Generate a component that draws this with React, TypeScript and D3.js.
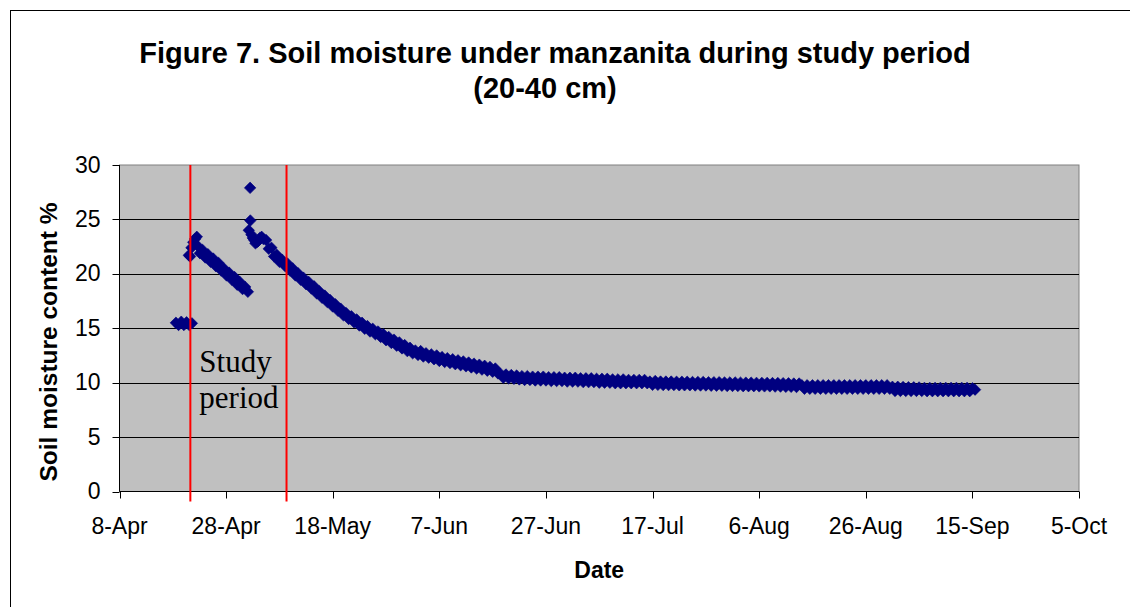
import React from "react";
import * as d3 from "d3";

const W = 1130;
const H = 607;

// axis
const xTickDates = ["2005-04-08", "2005-04-28", "2005-05-18", "2005-06-07", "2005-06-27", "2005-07-17", "2005-08-06", "2005-08-26", "2005-09-15", "2005-10-05"];
const yTicks = [0, 5, 10, 15, 20, 25, 30];
const titleLines = ["Figure 7. Soil moisture under manzanita during study period", "(20-40 cm)"];
const xTitle = "Date";
const yTitle = "Soil moisture content %";
const studyPeriod = ["2005-04-21 07:00", "2005-05-09 08:00"];
const studyLabel = ["Study", "period"];

// readings logged every 12 hours, each run starting at the given time
const preRainStart = "2005-04-18 14:00";
const preRain = [15.5, 15.3, 15.6, 15.3, 15.55, 15.3, 15.45];

// irregular readings around the first wetting
const wet1Times = ["2005-04-21 00:00", "2005-04-21 06:00", "2005-04-21 12:00", "2005-04-21 20:00", "2005-04-22 04:00", "2005-04-22 12:00"];
const wet1Values = [21.7, 21.6, 22.4, 22.9, 23.2, 23.4];

const dry1Start = "2005-04-22 14:00";
const dry1 = [22.6, 21.9, 22.2, 21.5, 21.8, 21.1, 21.4, 20.7, 21.0, 20.3, 20.5, 19.85, 20.1, 19.45, 19.7, 19.0, 19.25, 18.6, 18.8, 18.35];

// irregular readings around the second wetting
const wet2Times = ["2005-05-02 06:00", "2005-05-02 12:00", "2005-05-02 13:00", "2005-05-02 18:00", "2005-05-03 00:00", "2005-05-03 06:00", "2005-05-03 12:00", "2005-05-03 18:00", "2005-05-04 00:00", "2005-05-04 08:00", "2005-05-04 16:00", "2005-05-05 00:00"];
const wet2Values = [24.0, 27.9, 24.9, 23.6, 23.3, 23.1, 22.8, 22.9, 23.0, 23.3, 23.4, 23.2];

const dryMayStart = "2005-05-05 12:00";
const dryMay = [
  23.1, 22.3, 22.4, 21.6, 21.75, 21.1, 21.3, 20.75, 20.95, 20.3,
  20.5, 19.85, 20.05, 19.45, 19.65, 19.05, 19.25, 18.65, 18.85, 18.2,
  18.4, 17.8, 18.0, 17.4, 17.6, 17.0, 17.2, 16.6, 16.8, 16.2,
  16.4, 15.85, 16.1, 15.55, 15.8, 15.25, 15.5, 14.95, 15.2, 14.7,
  14.95, 14.45, 14.7, 14.2, 14.45, 13.9, 14.2, 13.65, 13.95, 13.4,
  13.7, 13.15, 13.45,
];

const dryJunStart = "2005-06-01 00:00";
const dryJun = [
  12.9, 13.2, 12.7, 12.95, 12.55, 12.9, 12.4, 12.7, 12.3, 12.6,
  12.15, 12.5, 12.0, 12.35, 11.9, 12.25, 11.8, 12.15, 11.7, 12.05,
  11.6, 11.95, 11.5, 11.85, 11.4, 11.75, 11.3, 11.65, 11.2, 11.55,
  11.1, 11.45, 11.0, 11.3, 10.85,
];

const flatJulStart = "2005-06-18 12:00";
const flatJul = [
  10.8, 10.45, 10.75, 10.4, 10.7, 10.35, 10.65, 10.3, 10.6, 10.25,
  10.6, 10.25, 10.55, 10.2, 10.55, 10.2, 10.55, 10.2, 10.5, 10.15,
  10.5, 10.15, 10.5, 10.15, 10.45, 10.1, 10.45, 10.1, 10.45, 10.1,
  10.4, 10.05, 10.4, 10.05, 10.4, 10.05, 10.35, 10.0, 10.35, 10.0,
  10.35, 10.0, 10.3, 9.95, 10.3, 9.95, 10.3, 9.95, 10.25, 9.95,
  10.25, 9.95, 10.25, 9.95, 10.25, 9.95,
];

const flatAugStart = "2005-07-16 12:00";
const flatAug = [
  10.1, 9.8, 10.15, 9.8, 10.1, 9.78, 10.1, 9.78, 10.1, 9.78,
  10.08, 9.76, 10.08, 9.76, 10.08, 9.76, 10.06, 9.74, 10.06, 9.74,
  10.06, 9.74, 10.04, 9.72, 10.04, 9.72, 10.04, 9.72, 10.02, 9.7,
  10.02, 9.7, 10.02, 9.7, 10.0, 9.68, 10.0, 9.68, 10.0, 9.68,
  9.98, 9.66, 9.98, 9.66, 9.98, 9.66, 9.96, 9.64, 9.96, 9.64,
  9.95, 9.62, 9.94, 9.62, 9.92, 9.6, 9.92,
];

const flatLateAugStart = "2005-08-14 00:00";
const flatLateAug = [
  9.76, 9.44, 9.76, 9.44, 9.76, 9.44, 9.76, 9.44, 9.76, 9.44,
  9.76, 9.44, 9.76, 9.44, 9.76, 9.44, 9.76, 9.44, 9.76, 9.44,
  9.76, 9.44, 9.76, 9.44, 9.76, 9.44, 9.76, 9.44, 9.76, 9.44,
  9.76, 9.44, 9.76, 9.44,
];

const flatSepStart = "2005-08-31 00:00";
const flatSep = [
  9.62, 9.24, 9.62, 9.24, 9.6, 9.24, 9.58, 9.24, 9.57, 9.24,
  9.56, 9.24, 9.52, 9.22, 9.52, 9.22, 9.52, 9.22, 9.52, 9.22,
  9.52, 9.22, 9.52, 9.22, 9.52, 9.22, 9.52, 9.22, 9.52, 9.22,
  9.48, 9.36,
];

const parseDay = d3.timeParse("%Y-%m-%d");
const parseTime = d3.timeParse("%Y-%m-%d %H:%M");
const fmt = d3.timeFormat("%-d-%b");

type Pt = { t: Date; v: number };

function run(start: string, values: number[]): Pt[] {
  const s = parseTime(start) as Date;
  return values.map((v, i) => ({ t: d3.timeHour.offset(s, 12 * i), v }));
}
function irregular(times: string[], values: number[]): Pt[] {
  return times.map((t, i) => ({ t: parseTime(t) as Date, v: values[i] }));
}

const points: Pt[] = [
  ...run(preRainStart, preRain),
  ...irregular(wet1Times, wet1Values),
  ...run(dry1Start, dry1),
  ...irregular(wet2Times, wet2Values),
  ...run(dryMayStart, dryMay),
  ...run(dryJunStart, dryJun),
  ...run(flatJulStart, flatJul),
  ...run(flatAugStart, flatAug),
  ...run(flatLateAugStart, flatLateAug),
  ...run(flatSepStart, flatSep),
];

const SANS = "'Liberation Sans', Arial, sans-serif";
const SERIF = "'Liberation Serif', 'Times New Roman', serif";

export default function App() {
  const left = 119.5;
  const right = 1079;
  const top = 165;
  const bottom = 491.5;
  const tickDates = xTickDates.map((d) => parseDay(d) as Date);
  const x = d3.scaleTime().domain([tickDates[0], tickDates[tickDates.length - 1]]).range([left, right]);
  const y = d3.scaleLinear().domain([0, 30]).range([bottom, top]);
  const crisp = (v: number) => Math.round(v) + 0.5;
  const diamond = d3.symbol(d3.symbolSquare, 66)() as string;
  const sp = studyPeriod.map((s) => parseTime(s) as Date);
  const titleX = [555, 545];

  return (
    <svg width={W} height={H} style={{ position: "absolute", left: 0, top: 0, background: "#fff" }}>
      <rect x={10.5} y={10.5} width={W + 20} height={H + 20} fill="#fff" stroke="#000" strokeWidth={1} />
      {titleLines.map((t, i) => (
        <text key={t} x={titleX[i]} y={63 + i * 35} textAnchor="middle" fontFamily={SANS} fontWeight="bold" fontSize={29} fill="#000">
          {t}
        </text>
      ))}
      <rect x={left} y={top} width={right - left} height={bottom - top} fill="#C0C0C0" stroke="#808080" strokeWidth={1} />
      {yTicks.filter((v) => v > 0 && v < 30).map((v) => (
        <line key={v} x1={left} x2={right} y1={crisp(y(v))} y2={crisp(y(v))} stroke="#000" strokeWidth={1} />
      ))}
      {/* axes */}
      <line x1={left} x2={left} y1={top} y2={bottom} stroke="#000" />
      <line x1={left} x2={right} y1={bottom} y2={bottom} stroke="#000" />
      {yTicks.map((v) => (
        <g key={v}>
          <line x1={left - 7} x2={left} y1={crisp(y(v))} y2={crisp(y(v))} stroke="#000" />
          <text x={left - 19} y={y(v) + 7.5} textAnchor="end" fontFamily={SANS} fontSize={23} fill="#000">
            {v}
          </text>
        </g>
      ))}
      {tickDates.map((d) => (
        <g key={+d}>
          <line x1={crisp(x(d))} x2={crisp(x(d))} y1={bottom} y2={bottom + 7} stroke="#000" />
          <text x={x(d)} y={533.5} textAnchor="middle" fontFamily={SANS} fontSize={23} fill="#000">
            {fmt(d)}
          </text>
        </g>
      ))}
      <text x={(left + right) / 2} y={578} textAnchor="middle" fontFamily={SANS} fontWeight="bold" fontSize={23} fill="#000">
        {xTitle}
      </text>
      <text transform={`translate(57,342) rotate(-90)`} textAnchor="middle" fontFamily={SANS} fontWeight="bold" fontSize={24.5} fill="#000">
        {yTitle}
      </text>
      {/* data */}
      <g fill="#000080" stroke="#000080" strokeWidth={0.6}>
        {points.map((p, i) => (
          <path key={i} d={diamond} transform={`translate(${x(p.t)},${y(p.v)}) rotate(45)`} />
        ))}
      </g>
      {/* study period */}
      {sp.map((d, i) => (
        <line key={i} x1={x(d)} x2={x(d)} y1={top} y2={bottom + 10} stroke="#FF0000" strokeWidth={2} />
      ))}
      {studyLabel.map((s, i) => (
        <text key={s} x={x(sp[0]) + 9} y={y(11) + i * 36} fontFamily={SERIF} fontSize={31} fill="#000">
          {s}
        </text>
      ))}
    </svg>
  );
}
